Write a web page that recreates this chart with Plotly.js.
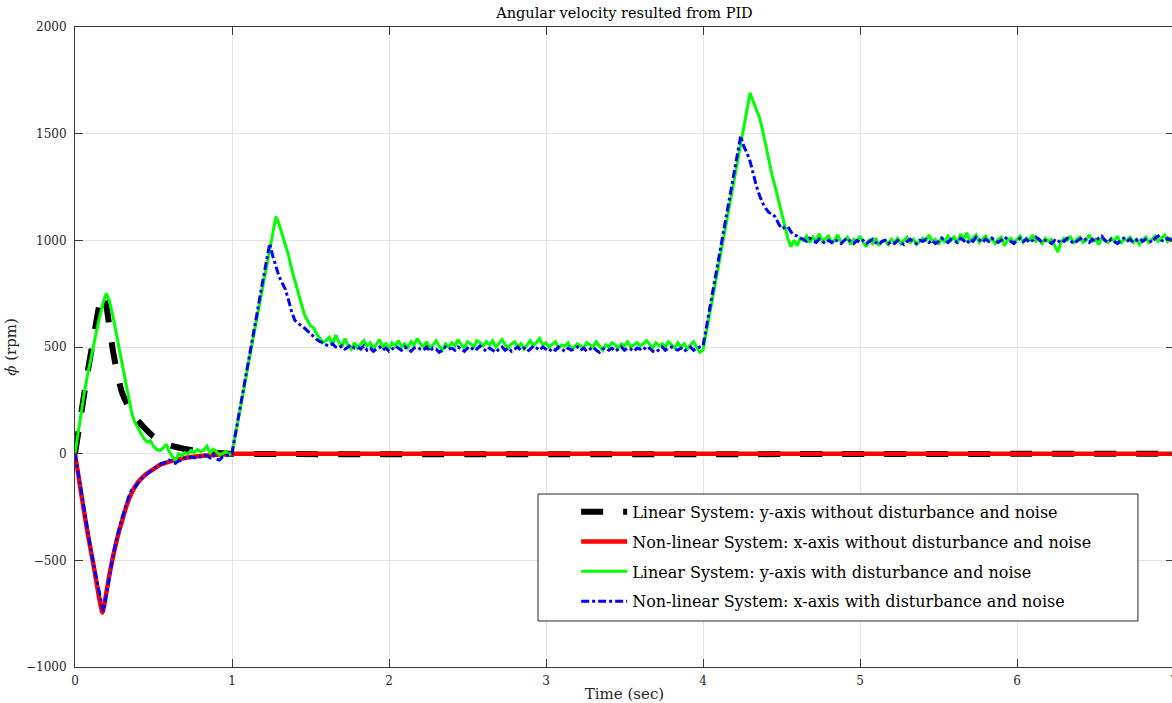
<!DOCTYPE html>
<html>
<head>
<meta charset="utf-8">
<script src="https://cdn.plot.ly/plotly-3.0.1.min.js"></script>
<style>
html,body{margin:0;padding:0;overflow:hidden;background:#fff;}
#chart{width:1180px;height:703px;}
</style>
</head>
<body>
<div id="chart"></div>
<script>
// ---- Data ----
const seriesNames = [
  "Linear System: y-axis without disturbance and noise",
  "Non-linear System: x-axis without disturbance and noise",
  "Linear System: y-axis with disturbance and noise",
  "Non-linear System: x-axis with disturbance and noise"
];

// Smooth responses (sec, rpm)
const tBlack = [0, 0.04, 0.08, 0.12, 0.16, 0.175, 0.2, 0.22, 0.24, 0.26, 0.28, 0.3, 0.33, 0.36, 0.4, 0.45, 0.5, 0.55, 0.6, 0.7, 0.8, 0.9, 1.0, 7.0];
const vBlack = [0, 190, 380, 550, 715, 745, 690, 590, 490, 410, 340, 285, 235, 195, 155, 115, 80, 60, 40, 22, 10, 4, 0, 0];

const tRed = [0, 0.04, 0.08, 0.12, 0.16, 0.175, 0.2, 0.22, 0.24, 0.26, 0.28, 0.3, 0.33, 0.36, 0.4, 0.45, 0.5, 0.55, 0.6, 0.7, 0.8, 0.9, 1.0, 7.0];
const vRed = [0, -190, -370, -530, -700, -745, -650, -565, -490, -425, -365, -315, -240, -185, -135, -98, -72, -50, -37, -20, -11, -5, 0, 0];

// Noisy responses, sampled every 0.02 s from 0 to 7 s (one row = 0.2 s)
const sampleStep = 0.02;
const vGreen = [
  0, 100, 200, 290, 370, 445, 515, 585, 650, 710,
  752, 715, 650, 575, 490, 410, 335, 260, 195, 150,
  120, 95, 70, 55, 60, 35, 20, 15, 25, 45,
  10, -15, -30, 0, -10, 5, 0, 15, 5, 20,
  10, 15, 35, 5, 20, 10, -5, 0, 10, -5,
  5, 80, 160, 240, 320, 405, 485, 565, 645, 725,
  805, 880, 960, 1040, 1112, 1075, 1025, 985, 930, 865,
  815, 760, 705, 655, 625, 600, 590, 560, 540, 520,
  530, 545, 510, 555, 525, 500, 540, 505, 490, 520,
  495, 515, 530, 505, 520, 490, 510, 535, 500, 515,
  490, 520, 505, 530, 500, 515, 495, 525, 510, 540,
  515, 500, 525, 495, 510, 530, 505, 485, 515, 500,
  520, 505, 535, 510, 495, 525, 515, 500, 530, 520,
  505, 525, 510, 530, 500, 520, 535, 510, 495, 515,
  525, 500, 515, 490, 510, 530, 505, 520, 540, 510,
  520, 500, 515, 525, 495, 510, 505, 520, 490, 500,
  515, 505, 495, 520, 510, 500, 525, 505, 485, 510,
  500, 520, 510, 495, 515, 505, 525, 500, 510, 520,
  505, 515, 530, 510, 495, 520, 505, 515, 500, 525,
  510, 495, 520, 500, 515, 490, 510, 525, 500, 475,
  485, 560, 640, 725, 805, 885, 965, 1050, 1130, 1210,
  1290, 1370, 1450, 1530, 1610, 1692, 1650, 1615, 1575, 1515,
  1440, 1370, 1305, 1250, 1190, 1125, 1065, 1010, 970, 1000,
  975, 1010, 1000, 1020, 990, 1015, 1000, 1030, 995, 1010,
  1020, 985, 1005, 1025, 990, 1000, 1015, 980, 1005, 995,
  1020, 990, 970, 1005, 985, 1010, 975, 995, 1000, 980,
  1005, 990, 1010, 985, 1000, 1015, 990, 1005, 980, 995,
  1010, 1000, 1025, 995, 1005, 980, 1015, 990, 1020, 1000,
  1015, 985, 1030, 1005, 1035, 995, 1010, 1025, 990, 1005,
  1020, 995, 1010, 985, 1005, 1015, 975, 1000, 1010, 990,
  1005, 1020, 990, 1010, 1000, 1025, 995, 1005, 985, 1010,
  995, 1005, 975, 945, 990, 1010, 1000, 1020, 985, 1005,
  1015, 990, 1000, 1025, 995, 1005, 980, 1010, 1000, 990,
  1010, 995, 1020, 985, 1005, 1000, 1015, 990, 1005, 980,
  1000, 1015, 990, 1005, 1020, 995, 1010, 1025, 995, 1010,
  1005
];
const vBlue = [
  0, -90, -185, -280, -365, -445, -525, -600, -680, -740,
  -660, -570, -490, -415, -355, -300, -255, -205, -170, -160,
  -140, -120, -105, -95, -80, -70, -60, -50, -45, -40,
  -30, -40, -45, -35, -30, -20, -25, -15, -20, -10,
  -15, -5, -10, -20, -5, -25, -30, -15, -10, -5,
  0, 85, 165, 250, 330, 415, 495, 580, 660, 745,
  825, 905, 985, 925, 880, 830, 800, 770, 720, 665,
  625, 610, 600, 590, 575, 565, 550, 535, 525, 520,
  510, 505, 515, 500, 495, 505, 490, 500, 510, 495,
  500, 490, 505, 485, 495, 480, 490, 500, 485, 495,
  480, 490, 505, 495, 485, 500, 490, 480, 495, 500,
  490, 485, 500, 480, 495, 490, 475, 485, 500, 490,
  495, 485, 500, 490, 480, 495, 485, 500, 490, 505,
  490, 480, 495, 485, 475, 490, 500, 485, 495, 480,
  490, 500, 485, 495, 480, 490, 505, 495, 485, 500,
  490, 480, 495, 485, 500, 490, 480, 495, 485, 490,
  500, 485, 495, 480, 490, 500, 485, 475, 490, 495,
  485, 495, 480, 490, 500, 485, 495, 490, 480, 495,
  490, 500, 485, 495, 480, 475, 490, 500, 485, 495,
  500, 490, 485, 495, 480, 490, 500, 485, 495, 500,
  505, 587, 669, 751, 833, 915, 997, 1079, 1161, 1243,
  1325, 1407, 1489, 1440, 1410, 1370, 1310, 1255, 1210, 1175,
  1150, 1130, 1125, 1110, 1080, 1055, 1060, 1065, 1040, 1025,
  1020, 1010, 1005, 995, 1010, 1000, 990, 1005, 995, 985,
  1000, 990, 1005, 995, 985, 1000, 1010, 995, 985, 1000,
  990, 1000, 985, 995, 1005, 990, 980, 995, 1000, 985,
  995, 985, 1000, 990, 980, 995, 1005, 990, 985, 1000,
  995, 1005, 990, 1000, 985, 995, 1010, 1000, 990, 1005,
  1000, 990, 1010, 1000, 985, 1005, 995, 1015, 1000, 990,
  1005, 995, 1010, 1000, 990, 1000, 1015, 1005, 995, 985,
  1000, 1010, 995, 1005, 990, 1000, 1015, 1005, 990, 1000,
  995, 985, 1000, 990, 1005, 995, 1010, 1000, 985, 995,
  1005, 1015, 1000, 990, 1005, 995, 1010, 1020, 1000, 990,
  1005, 995, 985, 1000, 1010, 995, 1005, 990, 1000, 1010,
  995, 1005, 1000, 990, 1010, 1020, 1000, 995, 1010, 1000,
  1005
];

const xTicks = [0, 1, 2, 3, 4, 5, 6, 7];
const yTicks = [-1000, -500, 0, 500, 1000, 1500, 2000];

// sample times for the noisy series
const tNoisy = vGreen.map((_, i) => +(i * sampleStep).toFixed(2));

const FONT = "DejaVu Serif, Liberation Serif, serif";
const AXIS_COLOR = "#3a3a3a";

const traces = [
  {x: tBlack, y: vBlack, name: seriesNames[0], legendgroup: "a", mode: "lines",
   line: {color: "#000000", width: 6, dash: "22px,20px", shape: "spline", smoothing: 0.6}},
  {x: tRed, y: vRed, name: seriesNames[1], legendgroup: "b", mode: "lines",
   line: {color: "#ff0000", width: 4.5, shape: "spline", smoothing: 0.6}},
  {x: tNoisy, y: vGreen, name: seriesNames[2], legendgroup: "c", mode: "lines",
   line: {color: "#00ff00", width: 3}},
  {x: tNoisy, y: vBlue, name: seriesNames[3], legendgroup: "d", mode: "lines",
   line: {color: "#0000ff", width: 3, dash: "8px,3px,3px,3px"}}
];

const layout = {
  width: 1180, height: 703,
  margin: {l: 75, r: 6, t: 27, b: 36, pad: 0},
  paper_bgcolor: "#ffffff", plot_bgcolor: "#ffffff",
  font: {family: FONT, size: 12, color: "#262626"},
  title: {text: "Angular velocity resulted from PID", font: {family: FONT, size: 14.5, color: "#000"},
          x: 0.5, xref: "paper", xanchor: "center", y: 1 - 13/703, yref: "container", yanchor: "middle"},
  xaxis: {
    range: [0, 7], tickvals: xTicks, ticktext: xTicks.map(String),
    showgrid: true, gridcolor: "#e3e3e3", gridwidth: 1, zeroline: false,
    showline: true, linecolor: AXIS_COLOR, linewidth: 1, mirror: "ticks",
    ticks: "inside", ticklen: 8, tickcolor: AXIS_COLOR, tickwidth: 1,
    tickfont: {family: FONT, size: 12, color: "#262626"},
    ticklabelstandoff: 3,
    title: {text: "Time (sec)", font: {family: FONT, size: 15, color: "#262626"}, standoff: 8},
    automargin: false
  },
  yaxis: {
    range: [-1000, 2000], tickvals: yTicks, ticktext: yTicks.map(v => v < 0 ? "\u2212" + Math.abs(v) : String(v)),
    showgrid: true, gridcolor: "#e3e3e3", gridwidth: 1, zeroline: false,
    showline: true, linecolor: AXIS_COLOR, linewidth: 1, mirror: "ticks",
    ticks: "inside", ticklen: 8, tickcolor: AXIS_COLOR, tickwidth: 1,
    tickfont: {family: FONT, size: 12, color: "#262626"},
    ticklabelstandoff: 5,
    title: {text: "<i>\u03D5\u0307</i> (rpm)", font: {family: FONT, size: 15, color: "#262626"}, standoff: 5},
    automargin: false
  },
  shapes: [{
    type: "rect", xref: "paper", yref: "paper", layer: "above",
    x0: 0.4213, x1: 0.9672, y0: 0.0719, y1: 0.2703,
    line: {color: "#262626", width: 1}, fillcolor: "#ffffff"
  }],
  showlegend: true,
  legend: {
    x: 0.456, y: 0.269, xanchor: "left", yanchor: "top",
    bgcolor: "rgba(0,0,0,0)", borderwidth: 0,
    font: {family: FONT, size: 16, color: "#000"},
    traceorder: "grouped", tracegroupgap: 6, itemwidth: 46,
    itemclick: false, itemdoubleclick: false
  }
};

Plotly.newPlot("chart", traces, layout, {displayModeBar: false, staticPlot: true});
</script>
</body>
</html>
